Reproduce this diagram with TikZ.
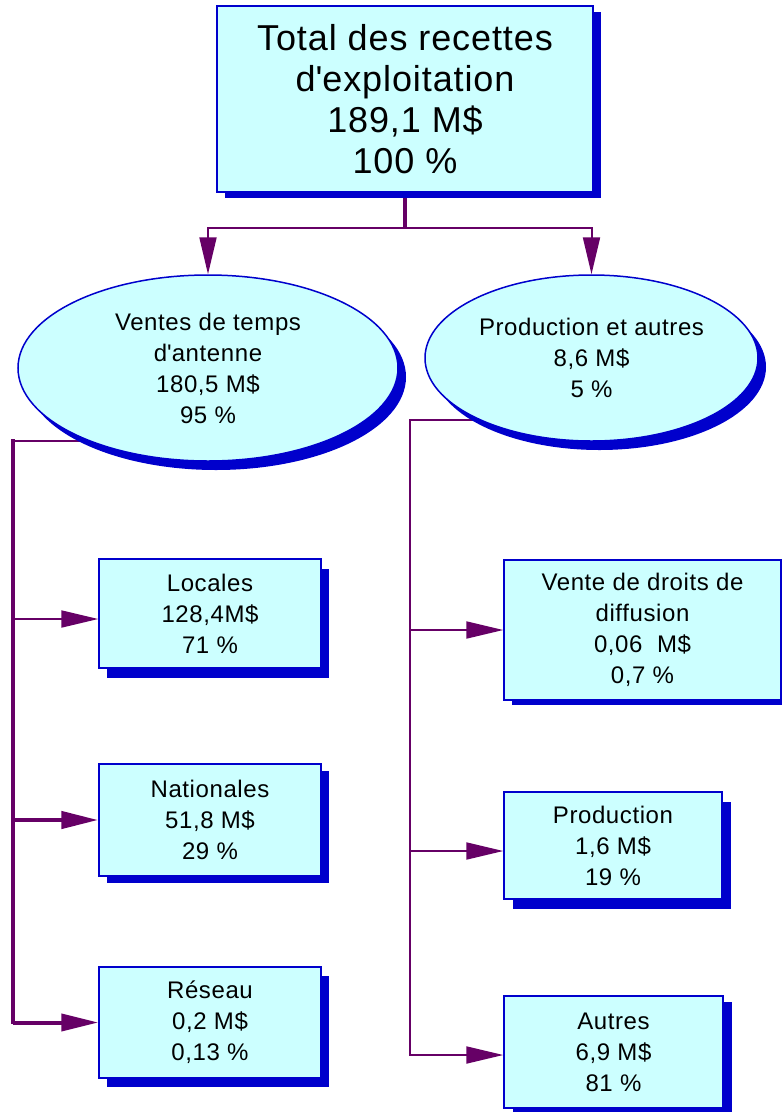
\documentclass[tikz,border=0pt]{standalone}
\usepackage{fontspec}
\setmainfont{Liberation Sans}[LetterSpace=2.5]
\usetikzlibrary{shapes.geometric,arrows.meta,shadows,backgrounds}
\definecolor{boxfill}{RGB}{204,255,255}
\definecolor{boxline}{RGB}{0,0,204}
\definecolor{conncol}{RGB}{102,0,102}
\tikzset{
  base/.style={fill=boxfill, draw=boxline, line width=1.5pt, inner sep=0pt,
    align=center, font=\fontsize{24}{31}\selectfont},
  rbox/.style 2 args={base, rectangle,
    drop shadow={shadow xshift=#1pt, shadow yshift=-#2pt, fill=boxline, opacity=1}},
  ebox/.style={base, ellipse,
    drop shadow={shadow xshift=8pt, shadow yshift=-9pt, fill=boxline, opacity=1}},
  conn/.style={draw=conncol, line width=2pt},
  tip/.style={-{Triangle[length=37pt,width=17pt]}},
}
\begin{document}
\begin{tikzpicture}[x=1pt,y=-1pt]
\useasboundingbox (0,0) rectangle (782,1112);

\node[rbox={8}{6}, minimum width=376pt, minimum height=186pt,
  font=\fontsize{36}{41}\selectfont] (top) at (405,99)
  {Total des recettes\\d\textquotesingle exploitation\\189,1 M\$\\100 \%};

\node[ebox, minimum width=380pt, minimum height=186pt] (vta) at (208,368)
  {Ventes de temps\\d\textquotesingle antenne\\180,5 M\$\\95 \%};
\node[ebox, minimum width=333pt, minimum height=166pt] (pa) at (591.5,358)
  {Production et autres\\8,6 M\$\\5 \%};

\node[rbox={8}{10}, minimum width=222pt, minimum height=109pt] (loc) at (210,613.5)
  {Locales\\128,4M\$\\71 \%};
\node[rbox={8}{7}, minimum width=222pt, minimum height=112pt] (nat) at (210,820)
  {Nationales\\51,8 M\$\\29 \%};
\node[rbox={8}{9}, minimum width=222pt, minimum height=111pt] (res) at (210,1022.5)
  {Réseau\\0,2 M\$\\0,13 \%};

\node[rbox={8}{5}, minimum width=277pt, minimum height=140pt] (vdd) at (642.5,630)
  {Vente de droits de\\diffusion\\0,06\ \ M\$\\0,7 \%};
\node[rbox={9}{10}, minimum width=218pt, minimum height=107pt] (prod) at (613,845.5)
  {Production\\1,6 M\$\\19 \%};
\node[rbox={9}{6}, minimum width=219pt, minimum height=112pt] (aut) at (613.5,1052)
  {Autres\\6,9 M\$\\81 \%};

\begin{scope}[on background layer]
  \coordinate (jt) at (405,228);
  \draw[conn, line width=4pt] (top.south) -- (jt);
  \draw[conn, tip] (jt) -| (vta.north);
  \draw[conn, tip] (jt) -| (pa.north);

  \coordinate (lt) at (13,441);
  \coordinate (ls) at (130,441);
  \coordinate (la) at ([yshift=-5.5pt]loc.west);
  \draw[conn, line width=2.5pt] (ls) -- (lt);
  \draw[conn, line width=3.5pt, line cap=rect] (lt) -- (lt |- res.west);
  \draw[conn, tip] (lt |- la) -- (la);
  \draw[conn, tip, line width=4.5pt] (lt |- nat.west) -- (nat.west);
  \draw[conn, tip, line width=4pt] (lt |- res.west) -- (res.west);

  \coordinate (rt) at (410,420);
  \coordinate (rs) at (520,420);
  \coordinate (pr) at ([yshift=-5.5pt]prod.west);
  \coordinate (au) at ([yshift=-3pt]aut.west);
  \draw[conn, line cap=rect] (rs) -- (rt) -- (rt |- au);
  \draw[conn, tip] (rt |- vdd.west) -- (vdd.west);
  \draw[conn, tip] (rt |- pr) -- (pr);
  \draw[conn, tip] (rt |- au) -- (au);
\end{scope}
\end{tikzpicture}
\end{document}
